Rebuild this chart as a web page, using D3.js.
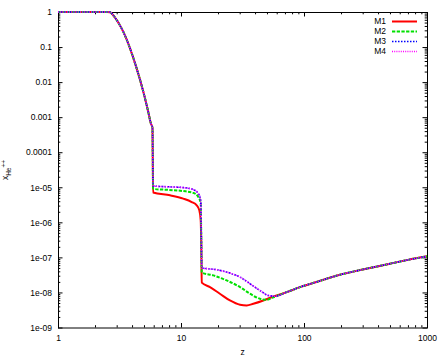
<!DOCTYPE html>
<html>
<head>
<meta charset="utf-8">
<script src="https://cdn.jsdelivr.net/npm/d3@7"></script>
<style>
body { margin: 0; background: #fff; }
text { font-family: "Liberation Sans", Arial, sans-serif; }
</style>
</head>
<body>
<svg id="chart"></svg>
<script>
// partie commune : avant la premiere chute
const zTop = [1, 2.5, 2.65, 2.8, 3.0, 3.4, 3.85, 4.36, 4.94, 5.42, 5.70, 5.86];
const xTop = [1, 1, 0.99, 0.82, 0.59, 0.27, 0.092, 0.0246, 0.0053, 1.4e-3, 6.5e-4, 5.0e-4];

// chaque modele entre z~6 et z~60
const zM1 = [5.93, 8.14, 10.44, 12.22, 13.42, 14.09, 14.46, 14.6, 14.75, 17.2, 20.7, 25.0, 30.2, 34.2, 38.7, 46.7, 54.6];
const xM1 = [7.1e-6, 5.9e-6, 4.75e-6, 3.8e-6, 3.06e-6, 2.2e-6, 1.14e-6, 3e-7, 1.9e-8, 1.42e-8, 9.2e-9, 5.9e-9, 4.45e-9, 4.25e-9, 4.75e-9, 5.9e-9, 7.3e-9];

const zM2 = [5.93, 8.0, 10.44, 12.59, 13.83, 14.46, 14.6, 14.75, 18.3, 23.5, 30.2, 36.4, 43.8, 49.7, 56.4];
const xM2 = [9.0e-6, 8.4e-6, 7.8e-6, 6.9e-6, 5.3e-6, 3.5e-6, 5e-7, 3.7e-8, 3.06e-8, 2.2e-8, 1.42e-8, 9.2e-9, 6.6e-9, 6.2e-9, 7.3e-9];

const zM3 = [5.93, 8.0, 10.44, 12.59, 13.83, 14.46, 14.6, 14.75, 16.5, 19.5, 25.0, 30.2, 36.4, 43.8, 51.3, 58.0];
const xM3 = [1.09e-5, 1.03e-5, 9.8e-6, 8.6e-6, 6.6e-6, 4.25e-6, 6e-7, 5.0e-8, 4.75e-8, 4.45e-8, 3.56e-8, 2.74e-8, 1.77e-8, 1.14e-8, 8.2e-9, 7.8e-9];

const zM4 = [5.93, 8.0, 10.44, 12.59, 13.83, 14.46, 14.6, 14.75, 16.5, 19.5, 25.0, 30.2, 36.4, 43.8, 51.3, 58.0];
const xM4 = [1.09e-5, 1.03e-5, 9.8e-6, 8.6e-6, 6.6e-6, 4.25e-6, 6e-7, 5.0e-8, 4.75e-8, 4.45e-8, 3.56e-8, 2.74e-8, 1.77e-8, 1.14e-8, 8.2e-9, 7.8e-9];

// partie commune : fin de courbe
const zTail = [72.3, 93, 130, 196, 300, 500, 700, 1000];
const xTail = [1.02e-8, 1.42e-8, 2.05e-8, 3.2e-8, 4.5e-8, 6.6e-8, 8.5e-8, 1.07e-7];

const seriesNames = ["M1", "M2", "M3", "M4"];
const yTickValues = [1, 1e-1, 1e-2, 1e-3, 1e-4, 1e-5, 1e-6, 1e-7, 1e-8, 1e-9];
const yTickLabels = ["1", "0.1", "0.01", "0.001", "0.0001", "1e-05", "1e-06", "1e-07", "1e-08", "1e-09"];
const xTickValues = [1, 10, 100, 1000];
const xTickLabels = ["1", "10", "100", "1000"];

var margin = {top: 12, right: 16, bottom: 32.5, left: 58},
width = 443 - margin.left - margin.right,
height = 360 - margin.top - margin.bottom;

const svg = d3.select("#chart")
.attr("width", 443)
.attr("height", 360);
const g = svg.append("g").attr("transform", `translate(${margin.left},${margin.top})`);

const x = d3.scaleLog().domain([1, 1000]).range([0, width]);
const y = d3.scaleLog().domain([1e-9, 1]).range([height, 0]);

//style des courbes (gnuplot)
const color = d3.scaleOrdinal().domain(seriesNames).range(["#ff0000", "#00e000", "#0000ff", "#ff00ff"]);
const dash = {M1: null, M2: "3.3,1.4", M3: "1.5,1.5", M4: "1,1.2"};
const lw = {M1: 2, M2: 2, M3: 1.6, M4: 1.6};

function buildSeries(zs, xs) {
    const pts = [];
    zTop.forEach((z, i) => pts.push([z, xTop[i]]));
    zs.forEach((z, i) => pts.push([z, xs[i]]));
    zTail.forEach((z, i) => pts.push([z, xTail[i]]));
    return pts;
}
const series = {
    M1: buildSeries(zM1, xM1),
    M2: buildSeries(zM2, xM2),
    M3: buildSeries(zM3, xM3),
    M4: buildSeries(zM4, xM4)
};

//ticks mineurs 2..9
const minors = (lo, hi) => {
    const out = [];
    for (let e = lo; e < hi; e++) for (let k = 2; k <= 9; k++) out.push(k * Math.pow(10, e));
    return out;
};
const xMinor = minors(0, 3);
const yMinor = minors(-9, 0);

const fontSize = "8.5px";
function styleAxis(sel) {
    sel.select(".domain").remove();
    sel.selectAll("line").attr("stroke", "#000");
    sel.selectAll("text").attr("fill", "#000").style("font-size", fontSize).style("font-family", "Liberation Sans, Arial, sans-serif");
}

// axes majeurs avec labels
g.append("g")
    .call(d3.axisLeft(y).tickValues(yTickValues).tickSize(-4.5).tickPadding(6)
        .tickFormat((d, i) => yTickLabels[i]))
    .call(styleAxis);
g.append("g").attr("transform", `translate(0,${height})`)
    .call(d3.axisBottom(x).tickValues(xTickValues).tickSize(-4.5).tickPadding(7.5)
        .tickFormat((d, i) => xTickLabels[i]))
    .call(styleAxis);
// miroir
g.append("g").attr("transform", `translate(${width},0)`)
    .call(d3.axisRight(y).tickValues(yTickValues).tickSize(-4.5).tickFormat(""))
    .call(styleAxis);
g.append("g")
    .call(d3.axisTop(x).tickValues(xTickValues).tickSize(-4.5).tickFormat(""))
    .call(styleAxis);
// mineurs
g.append("g").call(d3.axisLeft(y).tickValues(yMinor).tickSize(-2.3).tickFormat("")).call(styleAxis);
g.append("g").attr("transform", `translate(${width},0)`)
    .call(d3.axisRight(y).tickValues(yMinor).tickSize(-2.3).tickFormat("")).call(styleAxis);
g.append("g").attr("transform", `translate(0,${height})`)
    .call(d3.axisBottom(x).tickValues(xMinor).tickSize(-2.3).tickFormat("")).call(styleAxis);
g.append("g").call(d3.axisTop(x).tickValues(xMinor).tickSize(-2.3).tickFormat("")).call(styleAxis);

//cadre
g.append("rect")
    .attr("x", 0.5).attr("y", 0.5)
    .attr("width", width).attr("height", height)
    .attr("fill", "none").attr("stroke", "#000").attr("stroke-width", 1);

//courbes
const line = d3.line()
    .x(d => x(d[0]))
    .y(d => y(d[1]))
    .curve(d3.curveMonotoneX);

seriesNames.forEach(name => {
    g.append("path")
        .datum(series[name])
        .attr("d", line)
        .attr("fill", "none")
        .attr("stroke", color(name))
        .attr("stroke-width", lw[name])
        .attr("stroke-dasharray", dash[name]);
});

//legende
const legend = g.append("g");
seriesNames.forEach((name, i) => {
    const ly = 9.5 + i * 10;
    legend.append("text")
        .attr("x", 328).attr("y", ly).attr("dy", "0.35em")
        .attr("text-anchor", "end")
        .style("font-size", fontSize)
        .attr("fill", "#000")
        .text(name);
    legend.append("line")
        .attr("x1", 334).attr("x2", 359)
        .attr("y1", ly).attr("y2", ly)
        .attr("stroke", color(name))
        .attr("stroke-width", lw[name])
        .attr("stroke-dasharray", dash[name]);
});

//titres des axes
svg.append("text")
    .attr("x", margin.left + width / 2).attr("y", 355)
    .attr("text-anchor", "middle")
    .style("font-size", fontSize)
    .text("z");

const yl = svg.append("text")
    .attr("transform", "translate(8,170) rotate(-90)")
    .attr("text-anchor", "middle")
    .style("font-size", fontSize);
yl.append("tspan").text("x");
yl.append("tspan").attr("dy", 2.5).style("font-size", "6.5px").text("He");
yl.append("tspan").attr("dy", -5).style("font-size", "6.5px").text("++");
</script>
</body>
</html>
